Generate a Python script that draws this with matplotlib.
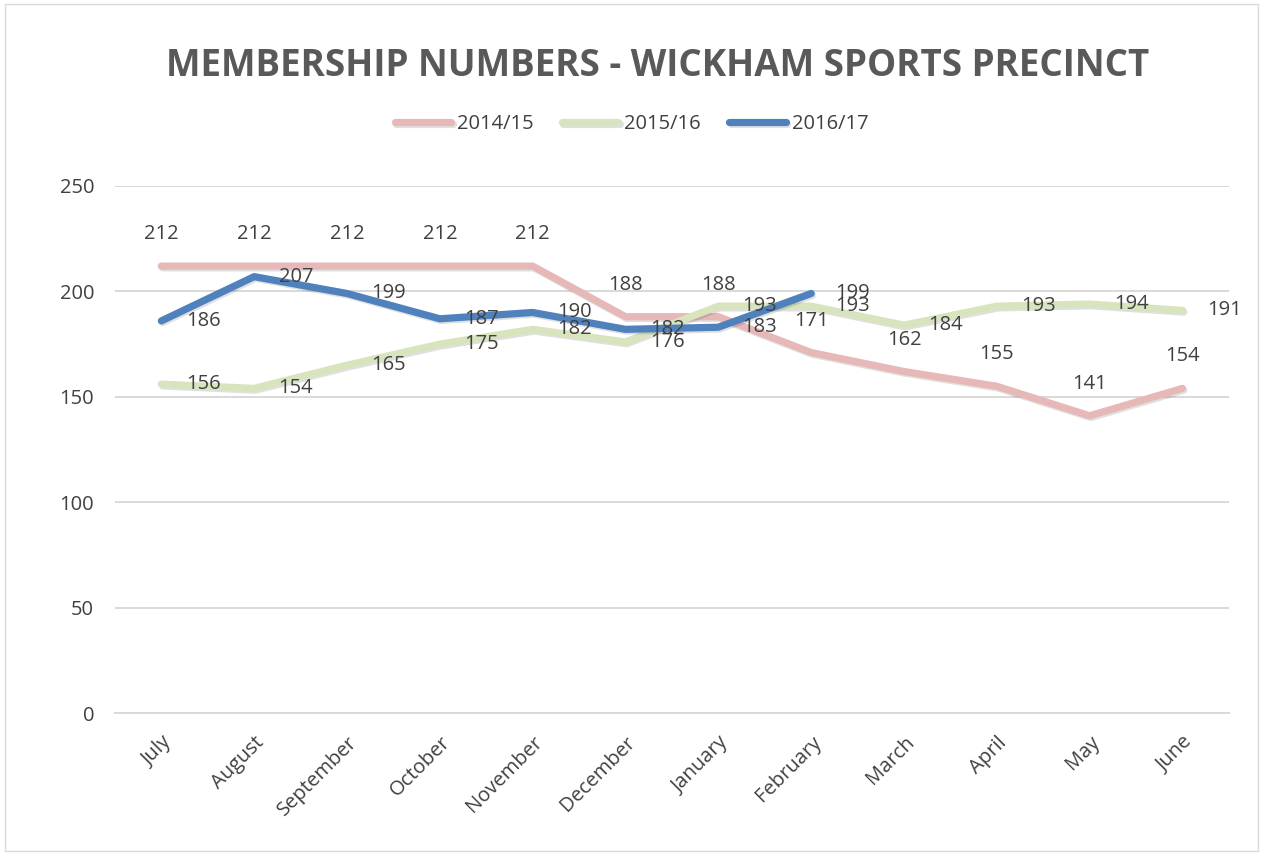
import matplotlib
matplotlib.use("Agg")
import matplotlib.pyplot as plt
import matplotlib.patheffects as pe
from matplotlib import font_manager

months = ["July", "August", "September", "October", "November", "December",
          "January", "February", "March", "April", "May", "June"]
s1415 = [212, 212, 212, 212, 212, 188, 188, 171, 162, 155, 141, 154]
s1516 = [156, 154, 165, 175, 182, 176, 193, 193, 184, 193, 194, 191]
s1617 = [186, 207, 199, 187, 190, 182, 183, 199]

names = {f.name for f in font_manager.fontManager.ttflist}
narrow = "Liberation Sans Narrow" if "Liberation Sans Narrow" in names else "Open Sans"
body = "Open Sans" if "Open Sans" in names else "DejaVu Sans"

text_col = "#404040"
grid_col = "#D9D9D9"

fig = plt.figure(figsize=(12.63, 8.55), dpi=100)
ax = fig.add_axes([0.091, 0.166, 0.882, 0.6165])

x = list(range(len(months)))
shadow = [pe.SimpleLineShadow(offset=(1.0, -1.3), alpha=0.12), pe.Normal()]

series = [
    ("2014/15", s1415, "#E6B9B8", "above"),
    ("2015/16", s1516, "#D7E4BD", "right"),
    ("2016/17", s1617, "#4F81BD", "right"),
]
for name, vals, col, pos in series:
    xs = x[:len(vals)]
    ax.plot(xs, vals, color=col, lw=5.2, solid_capstyle="round",
            solid_joinstyle="round", label=name, path_effects=shadow)
    for xi, v in zip(xs, vals):
        off = (0, 23) if pos == "above" else (30, 0)
        ax.annotate(str(v), (xi, v), xytext=off, textcoords="offset points",
                    ha="center", va="center", fontsize=14.5, color=text_col,
                    family=body)

ax.set_xlim(-0.5, len(months) - 0.5)
ax.set_ylim(0, 250)
ax.set_yticks(range(0, 251, 50))
ax.set_xticks(x)
ax.set_xticklabels(months, rotation=45, ha="right", rotation_mode="anchor")
ax.tick_params(length=0, labelsize=14.5, labelcolor=text_col, pad=14)
for lab in ax.get_xticklabels() + ax.get_yticklabels():
    lab.set_family(body)
ax.tick_params(axis="y", pad=15)
ax.grid(axis="y", color=grid_col, lw=1.4)
ax.set_axisbelow(True)
for sp in ["top", "right", "left"]:
    ax.spines[sp].set_visible(False)
ax.spines["bottom"].set_color(grid_col)
ax.spines["bottom"].set_linewidth(1.4)

fig.text(0.521, 0.923, "MEMBERSHIP NUMBERS - WICKHAM SPORTS PRECINCT",
         ha="center", va="center", fontsize=26.5, fontweight="bold",
         color="#595959", family=narrow)

leg = fig.legend(loc="center", bbox_to_anchor=(0.5, 0.855), ncol=3,
                 frameon=False, handlelength=2.8, handletextpad=0.3,
                 columnspacing=1.4, prop={"family": narrow, "size": 14.5})
for t in leg.get_texts():
    t.set_color(text_col)

fig.patches.append(plt.Rectangle((0.004, 0.005), 0.992, 0.99, transform=fig.transFigure,
                                 fill=False, edgecolor="#D9D9D9", lw=1))

fig.savefig("out.png", dpi=100)
